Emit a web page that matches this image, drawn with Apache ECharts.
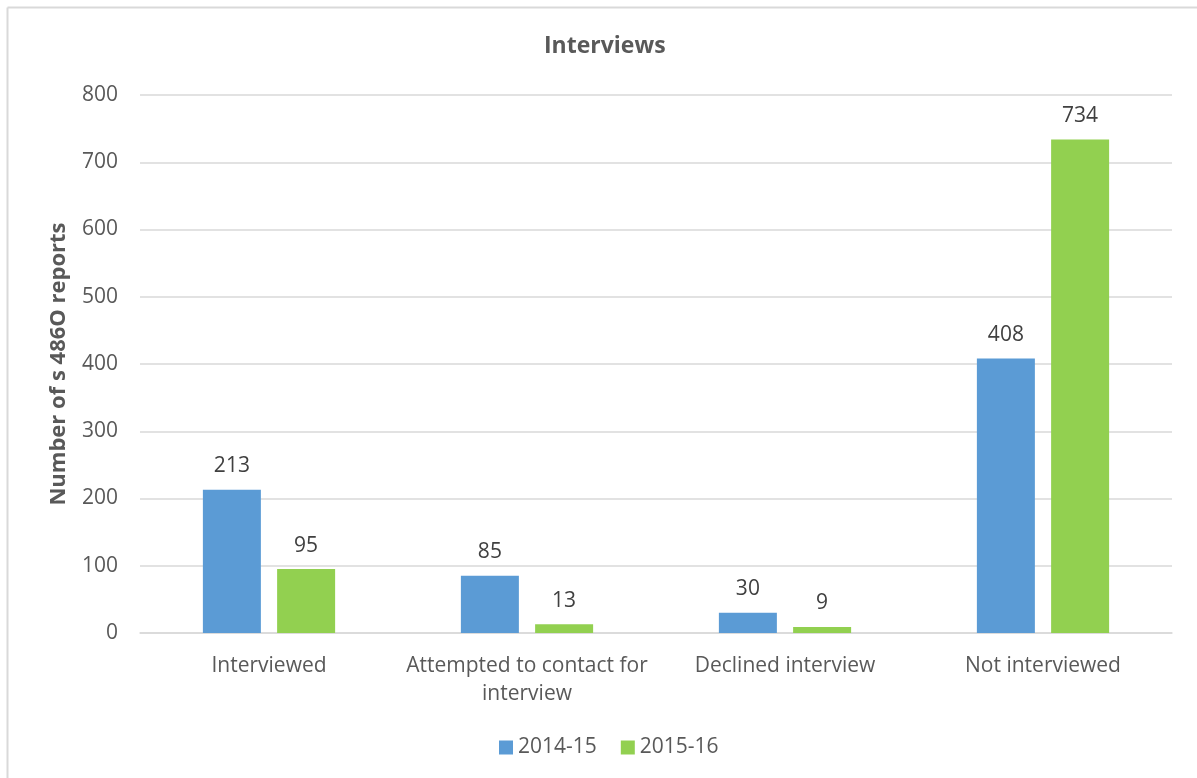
<!DOCTYPE html>
<html><head><meta charset="utf-8">
<script src="https://cdn.jsdelivr.net/npm/echarts@6/dist/echarts.min.js"></script>
<style>html,body{margin:0;padding:0;background:#fff}#c{width:1197px;height:778px}</style>
</head><body><div id="c"></div>
<script>
const categories = ['Interviewed', 'Attempted to contact for\ninterview', 'Declined interview', 'Not interviewed'];
const series2014 = [213, 85, 30, 408];
const series2015 = [95, 13, 9, 734];
const seriesNames = ['2014-15', '2015-16'];
const chart = echarts.init(document.getElementById('c'), null, {renderer: 'canvas'});
const font = '"Open Sans", sans-serif';
const labelStyle = {show: true, position: 'top', distance: 13, color: '#404040', fontSize: 21, fontFamily: font};
chart.setOption({
  animation: false,
  textStyle: {fontFamily: font},
  title: {text: 'Interviews', left: 539, top: 30, textStyle: {fontSize: 23, fontWeight: 'bold', color: '#595959', fontFamily: font}},
  graphic: [
    {type: 'line', shape: {x1: 7.5, y1: 7.5, x2: 1197, y2: 7.5}, style: {stroke: '#d9d9d9', lineWidth: 2}},
    {type: 'line', shape: {x1: 7.5, y1: 7.5, x2: 7.5, y2: 778}, style: {stroke: '#d9d9d9', lineWidth: 2}}
  ],
  legend: {bottom: 15, left: 494, itemWidth: 14, itemHeight: 14, itemGap: 24, icon: 'rect',
    textStyle: {fontSize: 21, color: '#595959', fontFamily: font}, data: seriesNames},
  grid: {left: 140, right: 25, top: 95, bottom: 145},
  xAxis: {type: 'category', data: categories,
    axisLine: {lineStyle: {color: '#d9d9d9', width: 1.5}}, axisTick: {show: false},
    axisLabel: {interval: 0, fontSize: 21, color: '#595959', fontFamily: font, margin: 19, lineHeight: 28}},
  yAxis: {type: 'value', min: 0, max: 800, interval: 100,
    name: 'Number of s 486O reports', nameLocation: 'middle', nameGap: 70,
    nameTextStyle: {fontSize: 22, fontWeight: 'bold', color: '#595959', fontFamily: font},
    axisLine: {show: false}, axisTick: {show: false},
    axisLabel: {fontSize: 21, color: '#595959', fontFamily: font, margin: 22},
    splitLine: {lineStyle: {color: '#d9d9d9', width: 1.5}}},
  series: [
    {name: seriesNames[0], type: 'bar', data: series2014, barWidth: 58, barGap: '28%', itemStyle: {color: '#5b9bd5'}, label: labelStyle},
    {name: seriesNames[1], type: 'bar', data: series2015, barWidth: 58, itemStyle: {color: '#92d050'}, label: labelStyle}
  ]
});
</script></body></html>
